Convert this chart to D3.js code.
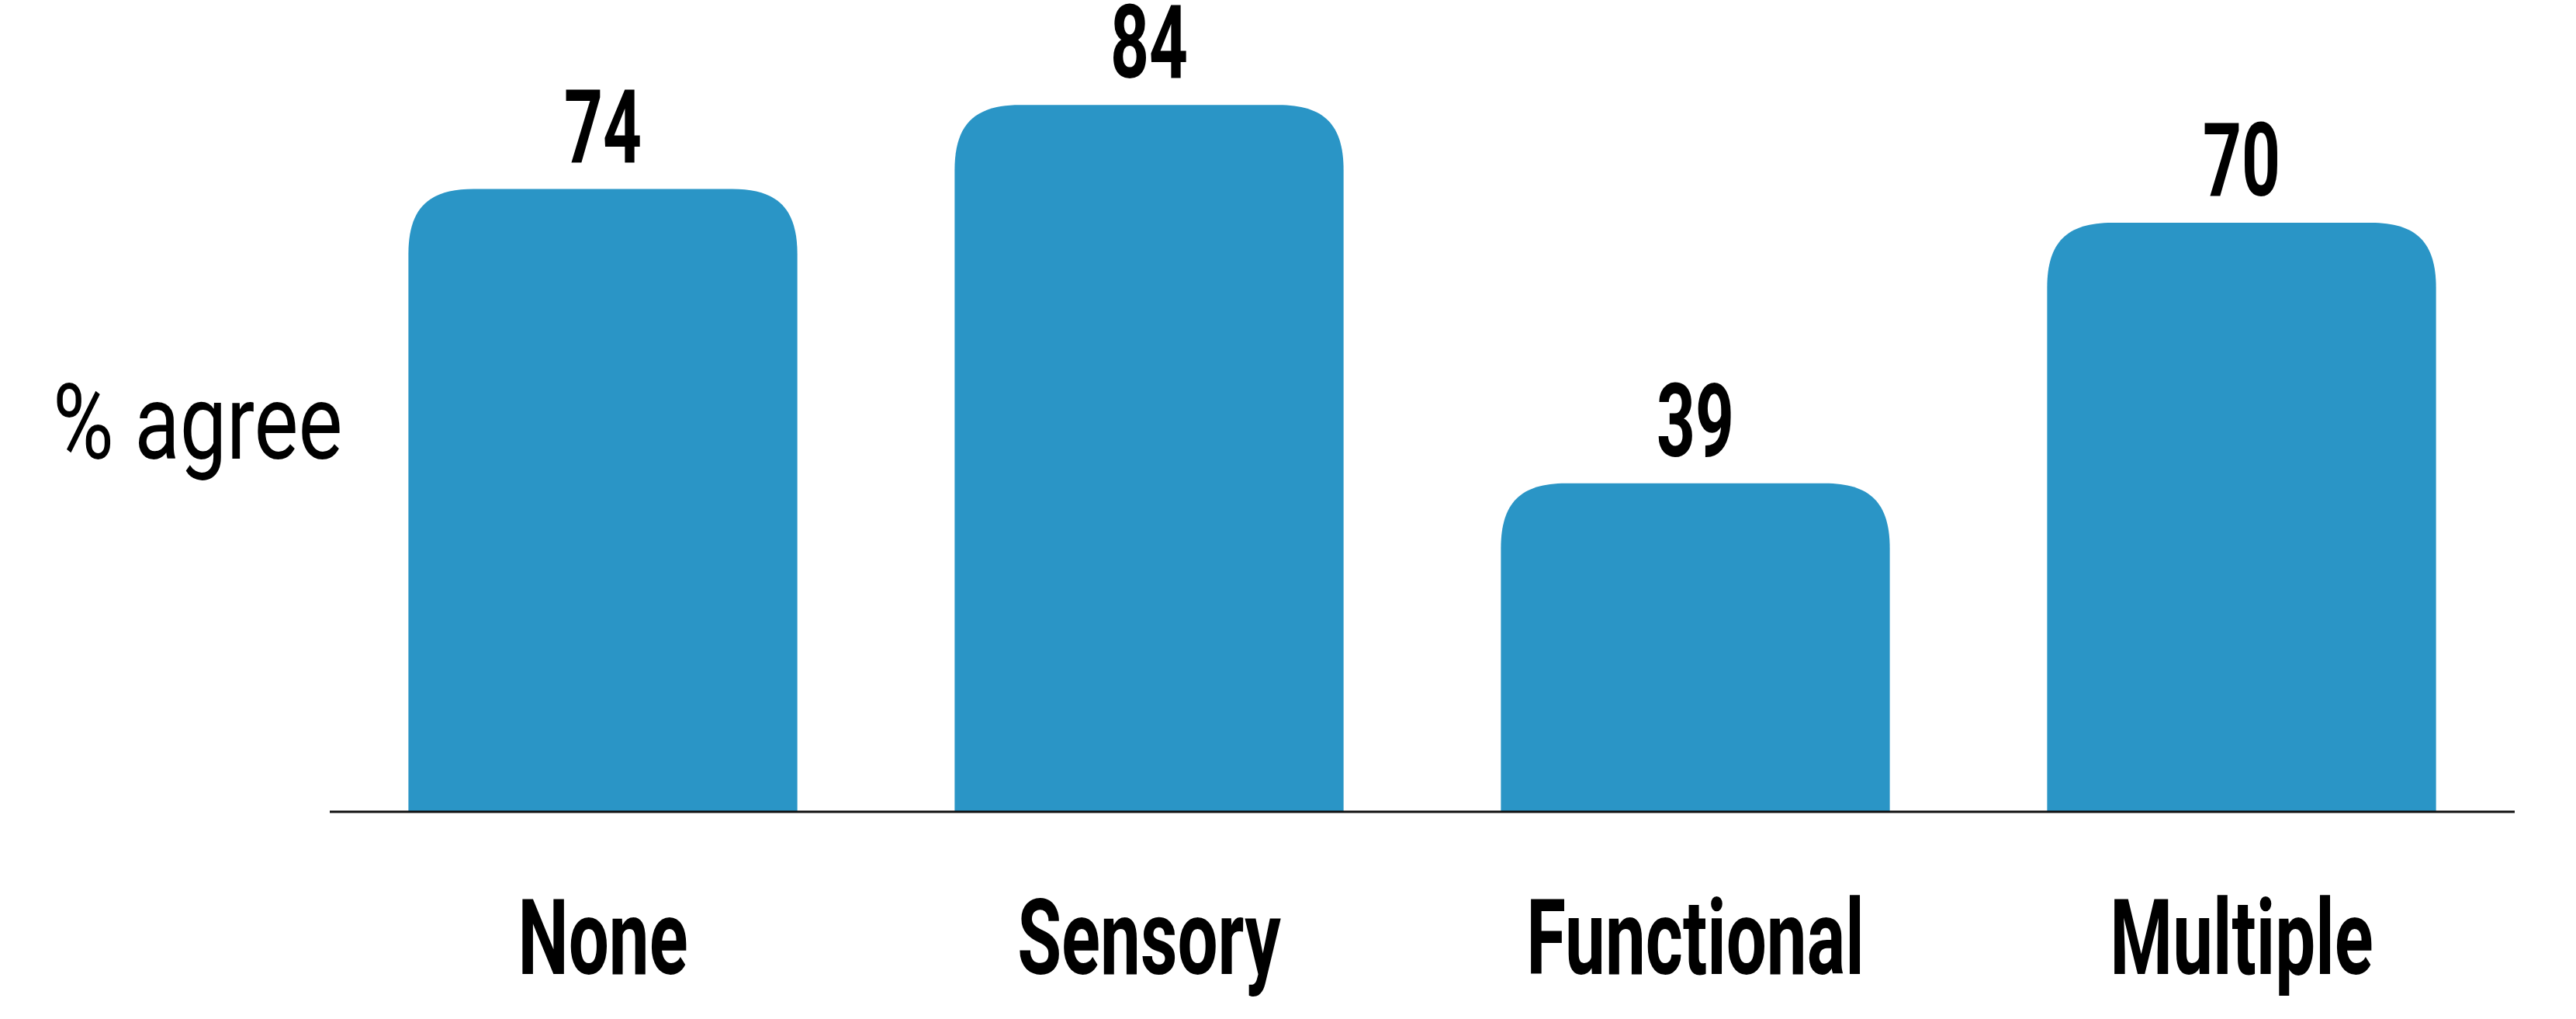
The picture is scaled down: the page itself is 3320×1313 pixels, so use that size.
<!DOCTYPE html>
<html>
<head>
<meta charset="utf-8">
<script src="https://cdn.jsdelivr.net/npm/d3@7"></script>
<style>
  body { margin: 0; background: #fff; }
  text { font-family: Roboto, "Liberation Sans", sans-serif; fill: #000; }
</style>
</head>
<body>
<script>
var categories = ["None", "Sensory", "Functional", "Multiple"];
var values = [74, 84, 39, 70];
var axisTitle = "% agree";

var width = 3320, height = 1313;
var barColor = "#2a95c6";
var corner = 84;

var svg = d3.select("body").append("svg")
    .attr("width", width)
    .attr("height", height);

var x = d3.scaleBand()
    .domain(categories)
    .range([425, 3241])
    .paddingInner(0.288)
    .paddingOuter(0.144);

var y = d3.scaleLinear()
    .domain([0, 100])
    .range([1045, -38]);

// bar with only the top corners rounded
var barPath = function(d, i) {
    var x0 = x(categories[i]), x1 = x0 + x.bandwidth();
    var top = y(d), base = y(0), r = corner, k = 0.3;
    return "M" + x0 + "," + base +
        "L" + x0 + "," + (top + r) +
        "C" + x0 + "," + (top + r * k) + " " + (x0 + r * k) + "," + top + " " + (x0 + r) + "," + top +
        "L" + (x1 - r) + "," + top +
        "C" + (x1 - r * k) + "," + top + " " + x1 + "," + (top + r * k) + " " + x1 + "," + (top + r) +
        "L" + x1 + "," + base + "Z";
};

svg.selectAll(".bar")
    .data(values)
    .enter().append("path")
    .attr("class", "bar")
    .attr("d", barPath)
    .style("fill", barColor);

// baseline
svg.append("line")
    .attr("x1", x.range()[0])
    .attr("x2", x.range()[1])
    .attr("y1", y(0) + 1)
    .attr("y2", y(0) + 1)
    .style("stroke", "#111")
    .style("stroke-width", 3);

// value labels
svg.selectAll(".val")
    .data(values)
    .enter().append("text")
    .attr("class", "val")
    .attr("transform", function(d, i) {
        return "translate(" + (x(categories[i]) + x.bandwidth() / 2) + "," + (y(d) - 35) + ") scale(0.66,1)";
    })
    .attr("text-anchor", "middle")
    .style("font-size", "132px")
    .style("font-weight", 700)
    .text(function(d) { return d; });

// category labels
var xAxis = svg.append("g")
    .attr("transform", "translate(0," + y(0) + ")")
    .call(d3.axisBottom(x).tickSize(0).tickPadding(0));
xAxis.select(".domain").remove();
xAxis.selectAll("text")
    .attr("y", 0)
    .attr("dy", 0)
    .attr("transform", "translate(0,210) scale(0.68,1)")
    .attr("text-anchor", "middle")
    .style("font-size", "136px")
    .style("font-weight", 700)
    .style("font-family", "Roboto, 'Liberation Sans', sans-serif")
    .style("fill", "#000");

// axis title
svg.append("text")
    .attr("transform", "translate(68,591) scale(0.79,1)")
    .style("font-size", "136px")
    .style("font-weight", 400)
    .text(axisTitle);
</script>
</body>
</html>
